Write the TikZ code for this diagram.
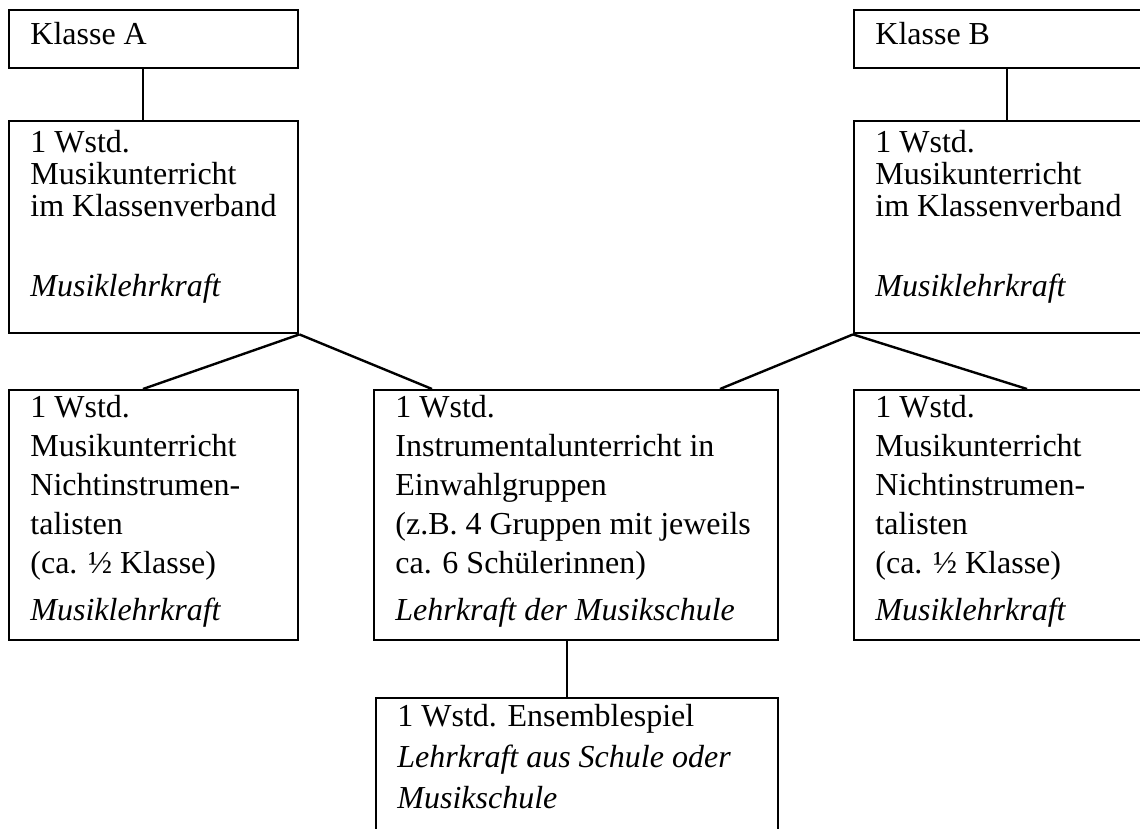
\documentclass[tikz,border=0pt]{standalone}
\usepackage{fontspec}
\setmainfont{Liberation Serif}
\newcommand{\txtlines}[2]{\vtop{\baselineskip=#1\lineskiplimit=-20pt\lineskip=0pt #2}}
\begin{document}
\begin{tikzpicture}[x=0.5pt,y=-0.5pt,
  every node/.style={font=\fontsize{16pt}{19pt}\selectfont},
  boxnode/.style={draw, line width=1.2pt, rectangle, anchor=north west, inner sep=0pt},
  txt/.style={anchor=base west, inner sep=0pt},
  conn/.style={line width=1.2pt}]
\fill[white] (0,0) rectangle (1140,829);
\useasboundingbox (0,0) rectangle (1140,829);
\clip (0,0) rectangle (1140,829);
% boxes
\node[boxnode, minimum width=144.5pt, minimum height=29pt] (KA) at (8,9) {};
\node[boxnode, minimum width=144.5pt, minimum height=106pt] (A2) at (8,120) {};
\node[boxnode, minimum width=144.5pt, minimum height=29pt] (KB) at (853,9) {};
\node[boxnode, minimum width=144.5pt, minimum height=106pt] (B2) at (853,120) {};
\node[boxnode, minimum width=144.5pt, minimum height=125pt] (L3) at (8,389) {};
\node[boxnode, minimum width=202pt, minimum height=125pt] (M3) at (373,389) {};
\node[boxnode, minimum width=144.5pt, minimum height=125pt] (R3) at (853,389) {};
\node[boxnode, minimum width=201pt, minimum height=90pt] (E) at (375,697) {};
% texts
\node[txt] (tKA) at (30,45) {Klasse A};
\node[txt] (tKB) at (875,45) {Klasse B};
\node[txt] (tA2) at (30,153) {\txtlines{16pt}{\hbox{1 Wstd.}\hbox{Musikunterricht}\hbox{im Klassenverband}\vskip24pt\hbox{\itshape Musiklehrkraft}}};
\node[txt] (tB2) at (875,153) {\txtlines{16pt}{\hbox{1 Wstd.}\hbox{Musikunterricht}\hbox{im Klassenverband}\vskip24pt\hbox{\itshape Musiklehrkraft}}};
\node[txt] (tL3) at (30,417) {\txtlines{19.5pt}{\hbox{1 Wstd.}\hbox{Musikunterricht}\hbox{Nichtinstrumen-}\hbox{talisten}\hbox{(ca. ½ Klasse)}\vskip4pt\hbox{\itshape Musiklehrkraft}}};
\node[txt] (tM3) at (395,417) {\txtlines{19.5pt}{\hbox{1 Wstd.}\hbox{Instrumentalunterricht in}\hbox{Einwahlgruppen}\hbox{(z.B. 4 Gruppen mit jeweils}\hbox{ca. 6 Schülerinnen)}\vskip4pt\hbox{\itshape Lehrkraft der Musikschule}}};
\node[txt] (tR3) at (875,417) {\txtlines{19.5pt}{\hbox{1 Wstd.}\hbox{Musikunterricht}\hbox{Nichtinstrumen-}\hbox{talisten}\hbox{(ca. ½ Klasse)}\vskip4pt\hbox{\itshape Musiklehrkraft}}};
\node[txt] (tE) at (397,726) {\txtlines{20.5pt}{\hbox{1 Wstd. Ensemblespiel}\hbox{\itshape Lehrkraft aus Schule oder}\hbox{\itshape Musikschule}}};
% connectors
\draw[conn] ([xshift=67.5pt]KA.south west) -- ([xshift=67.5pt]A2.north west);
\draw[conn] ([xshift=77pt]KB.south west) -- ([xshift=77pt]B2.north west);
\draw[conn] (A2.south east) -- ([xshift=67.5pt]L3.north west);
\draw[conn] (A2.south east) -- ([xshift=29.5pt]M3.north west);
\draw[conn] (B2.south west) -- ([xshift=173.5pt]M3.north west);
\draw[conn] (B2.south west) -- ([xshift=87pt]R3.north west);
\draw[conn] ([xshift=97pt]M3.south west) -- ([xshift=96pt]E.north west);
\end{tikzpicture}
\end{document}
